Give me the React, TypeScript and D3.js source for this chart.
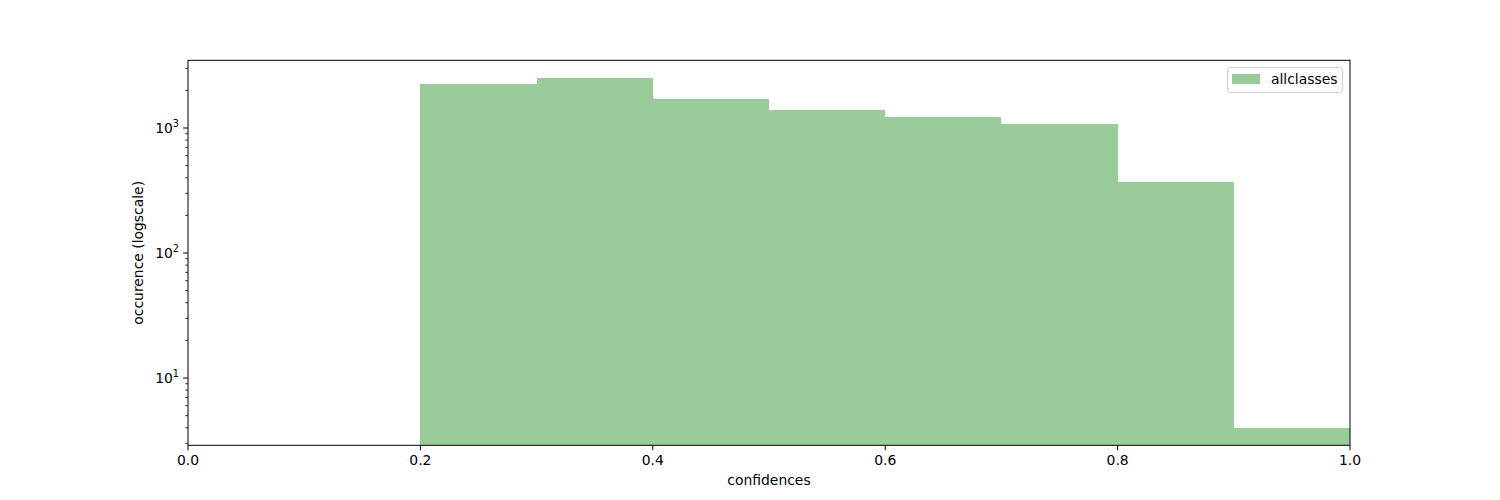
import React from "react";
import * as d3 from "d3";

const binEdges = [0.2, 0.3, 0.4, 0.5, 0.6, 0.7, 0.8, 0.9, 1.0];
const counts = [2250, 2510, 1705, 1395, 1225, 1075, 370, 4];
const xTicks = [0.0, 0.2, 0.4, 0.6, 0.8, 1.0];
const yMajor = [1, 2, 3];
const seriesName = "allclasses";

const width = 1500;
const height = 500;
const margin = { left: 188, right: 150, top: 60, bottom: 55 };
const font = "DejaVu Sans, sans-serif";
// matplotlib "green" at alpha 0.4 over white
const barColor = "#99cc99";

const x = d3
  .scaleLinear()
  .domain([0, 1])
  .range([margin.left, width - margin.right]);

const y = d3
  .scaleLog()
  .domain([2.896, 3480])
  .range([height - margin.bottom + 0.3, margin.top + 0.3]);

export default function App() {
  const [y0, y1] = y.domain();
  const minor: number[] = [];
  for (let e = 0; e <= 3; e++) {
    for (let m = 2; m <= 9; m++) {
      const v = m * Math.pow(10, e);
      if (v >= y0 && v <= y1) minor.push(v);
    }
  }
  const bottom = y.range()[0];
  const top = y.range()[1];

  return (
    <svg
      width={width}
      height={height}
      style={{ position: "absolute", left: 0, top: 0, background: "white" }}
      fontFamily={font}
    >
      <g shapeRendering="crispEdges">
        {counts.map((c, i) => (
          <rect
            key={i}
            x={Math.round(x(binEdges[i]))}
            y={y(c)}
            width={Math.round(x(binEdges[i + 1])) - Math.round(x(binEdges[i]))}
            height={bottom - y(c)}
            fill={barColor}
          />
        ))}
      </g>

      {/* frame */}
      <rect
        x={x(0)}
        y={top}
        width={x(1) - x(0)}
        height={bottom - top}
        fill="none"
        stroke="black"
        strokeWidth={1}
      />

      {/* x axis */}
      {xTicks.map((t) => (
        <g key={t} transform={`translate(${x(t)},${bottom})`}>
          <line y2={4.9} stroke="black" strokeWidth={1} />
          <text y={20} textAnchor="middle" fontSize={13.9} fill="black">
            {t.toFixed(1)}
          </text>
        </g>
      ))}
      <text
        x={(x(0) + x(1)) / 2}
        y={485}
        textAnchor="middle"
        fontSize={13.9}
        fill="black"
      >
        confidences
      </text>

      {/* y axis */}
      {minor.map((v) => (
        <line
          key={"m" + v}
          x1={x(0)}
          x2={x(0) - 2.8}
          y1={y(v)}
          y2={y(v)}
          stroke="black"
          strokeWidth={0.8}
        />
      ))}
      {yMajor.map((e) => (
        <g key={e} transform={`translate(${x(0)},${y(Math.pow(10, e))})`}>
          <line x2={-4.9} stroke="black" strokeWidth={1} />
          <text x={-9} y={5} textAnchor="end" fontSize={13.9} fill="black">
            10
            <tspan dy={-6} fontSize={9.7}>
              {e}
            </tspan>
          </text>
        </g>
      ))}
      <text
        transform={`translate(143,${(top + bottom) / 2}) rotate(-90)`}
        textAnchor="middle"
        fontSize={13.9}
        fill="black"
      >
        occurence (logscale)
      </text>

      {/* legend */}
      <g>
        <rect
          x={1227.5}
          y={67.5}
          width={115}
          height={25}
          rx={3}
          fill="white"
          fillOpacity={0.8}
          stroke="#cccccc"
        />
        <rect x={1232} y={74} width={28} height={10} fill={barColor} />
        <text x={1271} y={84} fontSize={13.9} fill="black">
          {seriesName}
        </text>
      </g>
    </svg>
  );
}
